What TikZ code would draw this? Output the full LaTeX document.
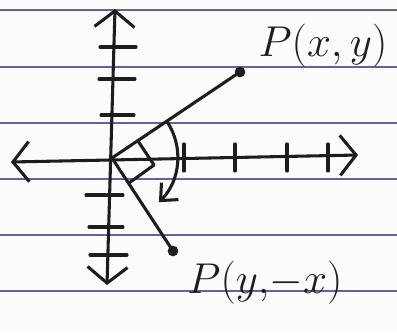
\documentclass[tikz,border=0pt]{standalone}
\usepackage{amsmath}
\usepackage{tikz}
\usetikzlibrary{arrows.meta}

\definecolor{ink}{RGB}{30,28,28}
\definecolor{rule}{RGB}{95,100,160}
\definecolor{paper}{RGB}{253,251,249}

\begin{document}
\begin{tikzpicture}[x=0.75pt,y=0.75pt,yscale=-1,xscale=1,
  inkline/.style={draw=ink,line width=2.3pt,line cap=round,line join=round},
  axisarrow/.style={inkline,{Straight Barb[length=12pt,width=30pt,line width=2.3pt]}-{Straight Barb[length=12pt,width=30pt,line width=2.3pt]}},
  dotpt/.style={circle,fill=ink,inner sep=0pt,minimum size=8pt},
  label/.style={text=ink,inner sep=0.75pt,font=\Huge,scale=1.3}]
%set diagram size
\useasboundingbox (0,0) rectangle (397,333);
\fill[paper] (0,0) rectangle (397,333);

%Lined paper
\foreach \yy in {10,67,123,179,235,291}
  \draw[rule,line width=0.8pt] (0,\yy) -- (397,\yy);

%Axes
\coordinate (O) at (112,158);
\coordinate (xl) at (11,162);
\coordinate (xr) at (358,155);
\coordinate (yt) at (115,9);
\coordinate (yb) at (107,285);
\draw[axisarrow] (xl) -- (xr);
\draw[axisarrow] (yb) -- (yt);

%Ticks on y axis
\foreach \yy/\xa/\xb in {47/100/136,79/99/135,115/101/134,195/86/123,227/89/123,255/90/127}
  \draw[inkline] (\xa,\yy) -- (\xb,\yy);
%Ticks on x axis
\foreach \xx in {184,235,287,328}
  \draw[inkline] (\xx,144) -- (\xx,171);

%Points
\node[dotpt] (A) at (240,72) {};
\node[dotpt] (B) at (173,251) {};
\draw[inkline] (O) -- (A.center);
\draw[inkline] (O) -- (B.center);

%Right angle mark
\coordinate (ra) at (138,141);
\coordinate (rb) at (129,183);
\draw[inkline] (ra) -- ++(16,24) -- (rb);

%Rotation arc
\draw[inkline,-{Straight Barb[length=10pt,width=18pt,line width=2.3pt]}]
  (O) ++(-33:66) arc[start angle=-33,end angle=45,radius=64];

% Text Node
\node[label] (la) at (323,46) {$P(x,y)$};
% Text Node
\node[label] (lb) at (265,283) {$P(y,\!-x)$};

\end{tikzpicture}
\end{document}
